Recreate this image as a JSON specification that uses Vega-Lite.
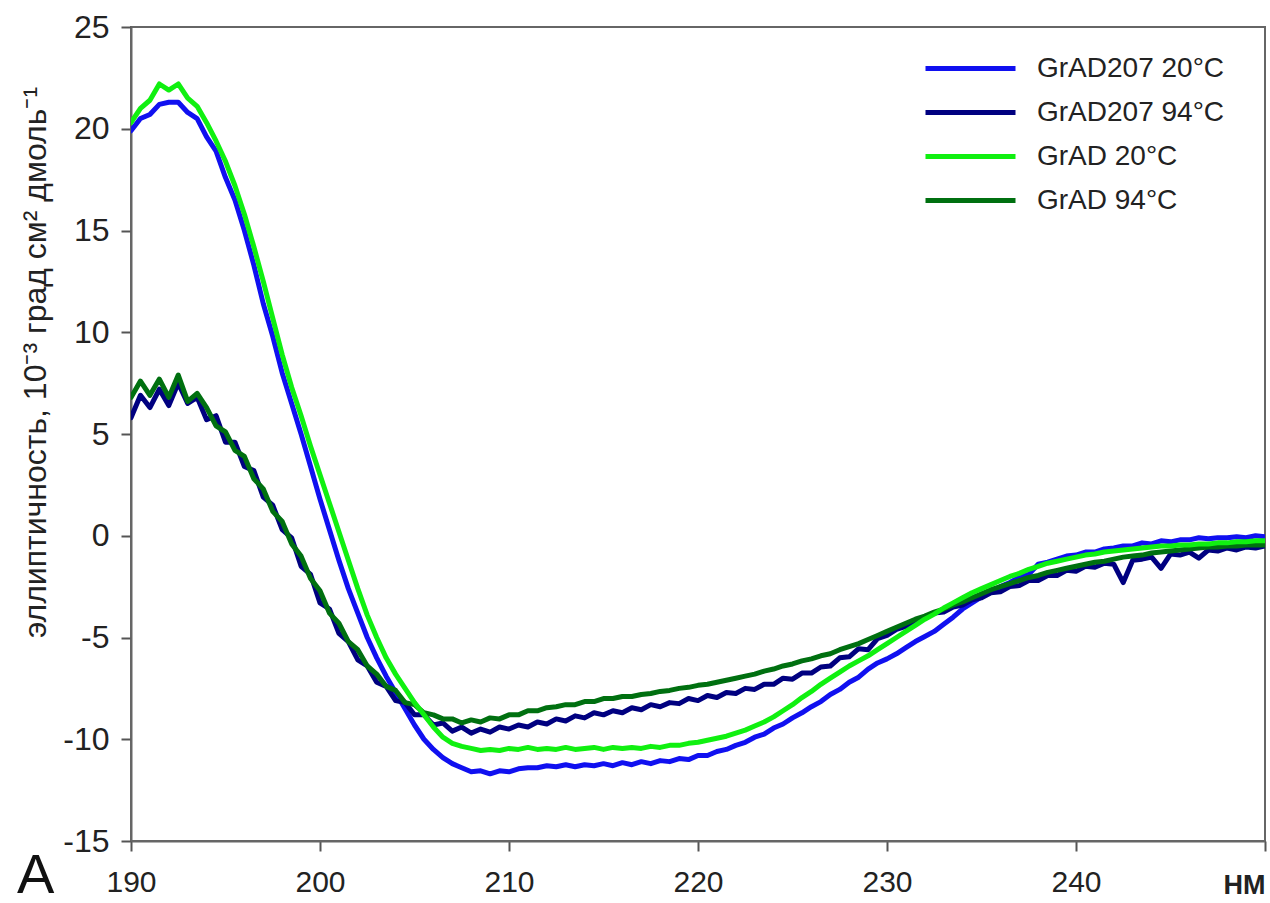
{
  "$schema": "https://vega.github.io/schema/vega-lite/v6.json",
  "width": 1134,
  "height": 814,
  "autosize": {"type": "none"},
  "padding": {"left": 131, "top": 27, "right": 5, "bottom": 62},
  "background": "white",
  "config": {
    "font": "Liberation Sans",
    "view": {"stroke": "#666666", "strokeWidth": 2},
    "axis": {"grid": false, "domainColor": "#666666", "domainWidth": 2, "tickColor": "#555555", "tickWidth": 2, "tickSize": 10, "labelColor": "#222222", "titleColor": "#222222", "labelFont": "Liberation Sans", "titleFont": "Liberation Sans"}
  },
  "title": {"text": "A", "orient": "bottom", "anchor": "start", "frame": "group", "fontSize": 56, "fontWeight": "normal", "color": "#111111", "font": "Liberation Sans", "dx": -114, "dy": -49, "offset": 0},
  "data": {
    "values": [
      {"w":190,"a":19.9,"b":5.8,"c":20.3,"d":6.8},
      {"w":190.5,"a":20.5,"b":6.9,"c":21.0,"d":7.6},
      {"w":191,"a":20.7,"b":6.3,"c":21.4,"d":6.9},
      {"w":191.5,"a":21.2,"b":7.2,"c":22.2,"d":7.7},
      {"w":192,"a":21.3,"b":6.4,"c":21.9,"d":6.8},
      {"w":192.5,"a":21.3,"b":7.5,"c":22.2,"d":7.9},
      {"w":193,"a":20.8,"b":6.5,"c":21.5,"d":6.6},
      {"w":193.5,"a":20.5,"b":6.8,"c":21.1,"d":7.0},
      {"w":194,"a":19.6,"b":5.7,"c":20.3,"d":6.3},
      {"w":194.5,"a":18.9,"b":5.9,"c":19.4,"d":5.4},
      {"w":195,"a":17.6,"b":4.6,"c":18.4,"d":5.1},
      {"w":195.5,"a":16.5,"b":4.6,"c":17.2,"d":4.2},
      {"w":196,"a":15.0,"b":3.4,"c":15.8,"d":3.9},
      {"w":196.5,"a":13.3,"b":3.2,"c":14.2,"d":2.8},
      {"w":197,"a":11.4,"b":1.9,"c":12.5,"d":2.3},
      {"w":197.5,"a":9.8,"b":1.5,"c":10.7,"d":1.2},
      {"w":198,"a":8.0,"b":0.3,"c":8.9,"d":0.7},
      {"w":198.5,"a":6.5,"b":-0.1,"c":7.3,"d":-0.4},
      {"w":199,"a":5.0,"b":-1.5,"c":5.9,"d":-1.0},
      {"w":199.5,"a":3.4,"b":-1.9,"c":4.4,"d":-2.1},
      {"w":200,"a":1.8,"b":-3.3,"c":3.0,"d":-2.7},
      {"w":200.5,"a":0.3,"b":-3.6,"c":1.6,"d":-3.8},
      {"w":201,"a":-1.2,"b":-4.8,"c":0.2,"d":-4.3},
      {"w":201.5,"a":-2.6,"b":-5.2,"c":-1.2,"d":-5.2},
      {"w":202,"a":-3.8,"b":-6.1,"c":-2.6,"d":-5.6},
      {"w":202.5,"a":-5.0,"b":-6.4,"c":-3.9,"d":-6.4},
      {"w":203,"a":-6.0,"b":-7.2,"c":-5.0,"d":-6.8},
      {"w":203.5,"a":-6.9,"b":-7.4,"c":-6.0,"d":-7.4},
      {"w":204,"a":-7.7,"b":-8.1,"c":-6.8,"d":-7.6},
      {"w":204.5,"a":-8.5,"b":-8.2,"c":-7.5,"d":-8.2},
      {"w":205,"a":-9.3,"b":-8.8,"c":-8.2,"d":-8.3},
      {"w":205.5,"a":-10.0,"b":-8.8,"c":-8.8,"d":-8.7},
      {"w":206,"a":-10.5,"b":-9.3,"c":-9.4,"d":-8.8},
      {"w":206.5,"a":-10.9,"b":-9.2,"c":-9.9,"d":-9.0},
      {"w":207,"a":-11.2,"b":-9.6,"c":-10.2,"d":-9.0},
      {"w":207.5,"a":-11.4,"b":-9.4,"c":-10.35,"d":-9.2},
      {"w":208,"a":-11.6,"b":-9.7,"c":-10.45,"d":-9.05},
      {"w":208.5,"a":-11.55,"b":-9.5,"c":-10.55,"d":-9.15},
      {"w":209,"a":-11.7,"b":-9.65,"c":-10.5,"d":-8.95},
      {"w":209.5,"a":-11.55,"b":-9.4,"c":-10.55,"d":-9.0},
      {"w":210,"a":-11.6,"b":-9.5,"c":-10.45,"d":-8.8},
      {"w":210.5,"a":-11.45,"b":-9.3,"c":-10.5,"d":-8.8},
      {"w":211,"a":-11.4,"b":-9.4,"c":-10.4,"d":-8.6},
      {"w":211.5,"a":-11.4,"b":-9.15,"c":-10.5,"d":-8.6},
      {"w":212,"a":-11.3,"b":-9.25,"c":-10.45,"d":-8.45},
      {"w":212.5,"a":-11.35,"b":-9.0,"c":-10.5,"d":-8.4},
      {"w":213,"a":-11.25,"b":-9.1,"c":-10.4,"d":-8.3},
      {"w":213.5,"a":-11.35,"b":-8.85,"c":-10.5,"d":-8.3},
      {"w":214,"a":-11.25,"b":-8.95,"c":-10.45,"d":-8.15},
      {"w":214.5,"a":-11.3,"b":-8.7,"c":-10.4,"d":-8.15},
      {"w":215,"a":-11.2,"b":-8.8,"c":-10.5,"d":-8.0},
      {"w":215.5,"a":-11.3,"b":-8.6,"c":-10.4,"d":-8.0},
      {"w":216,"a":-11.15,"b":-8.7,"c":-10.45,"d":-7.9},
      {"w":216.5,"a":-11.25,"b":-8.45,"c":-10.4,"d":-7.9},
      {"w":217,"a":-11.1,"b":-8.55,"c":-10.45,"d":-7.8},
      {"w":217.5,"a":-11.2,"b":-8.3,"c":-10.35,"d":-7.75},
      {"w":218,"a":-11.05,"b":-8.4,"c":-10.4,"d":-7.65},
      {"w":218.5,"a":-11.1,"b":-8.2,"c":-10.3,"d":-7.6},
      {"w":219,"a":-10.95,"b":-8.25,"c":-10.3,"d":-7.5},
      {"w":219.5,"a":-11.0,"b":-8.0,"c":-10.2,"d":-7.45},
      {"w":220,"a":-10.8,"b":-8.1,"c":-10.15,"d":-7.35},
      {"w":220.5,"a":-10.8,"b":-7.85,"c":-10.05,"d":-7.3},
      {"w":221,"a":-10.6,"b":-7.95,"c":-9.95,"d":-7.2},
      {"w":221.5,"a":-10.5,"b":-7.7,"c":-9.85,"d":-7.1},
      {"w":222,"a":-10.3,"b":-7.75,"c":-9.7,"d":-7.0},
      {"w":222.5,"a":-10.15,"b":-7.5,"c":-9.55,"d":-6.9},
      {"w":223,"a":-9.9,"b":-7.55,"c":-9.35,"d":-6.8},
      {"w":223.5,"a":-9.75,"b":-7.3,"c":-9.15,"d":-6.65},
      {"w":224,"a":-9.45,"b":-7.3,"c":-8.9,"d":-6.55},
      {"w":224.5,"a":-9.25,"b":-7.0,"c":-8.6,"d":-6.4},
      {"w":225,"a":-8.95,"b":-7.05,"c":-8.3,"d":-6.3},
      {"w":225.5,"a":-8.7,"b":-6.75,"c":-7.95,"d":-6.15},
      {"w":226,"a":-8.4,"b":-6.75,"c":-7.65,"d":-6.05},
      {"w":226.5,"a":-8.15,"b":-6.45,"c":-7.3,"d":-5.9},
      {"w":227,"a":-7.8,"b":-6.4,"c":-7.0,"d":-5.8},
      {"w":227.5,"a":-7.55,"b":-6.0,"c":-6.7,"d":-5.6},
      {"w":228,"a":-7.2,"b":-5.95,"c":-6.4,"d":-5.45},
      {"w":228.5,"a":-6.95,"b":-5.55,"c":-6.15,"d":-5.3},
      {"w":229,"a":-6.55,"b":-5.6,"c":-5.9,"d":-5.1},
      {"w":229.5,"a":-6.25,"b":-5.05,"c":-5.6,"d":-4.9},
      {"w":230,"a":-6.05,"b":-4.9,"c":-5.3,"d":-4.7},
      {"w":230.5,"a":-5.8,"b":-4.6,"c":-5.0,"d":-4.5},
      {"w":231,"a":-5.5,"b":-4.45,"c":-4.7,"d":-4.3},
      {"w":231.5,"a":-5.2,"b":-4.15,"c":-4.4,"d":-4.1},
      {"w":232,"a":-4.95,"b":-4.05,"c":-4.1,"d":-3.95},
      {"w":232.5,"a":-4.7,"b":-3.8,"c":-3.85,"d":-3.75},
      {"w":233,"a":-4.35,"b":-3.75,"c":-3.55,"d":-3.6},
      {"w":233.5,"a":-4.0,"b":-3.5,"c":-3.3,"d":-3.4},
      {"w":234,"a":-3.6,"b":-3.4,"c":-3.05,"d":-3.25},
      {"w":234.5,"a":-3.3,"b":-3.15,"c":-2.8,"d":-3.05},
      {"w":235,"a":-3.0,"b":-3.05,"c":-2.6,"d":-2.85},
      {"w":235.5,"a":-2.75,"b":-2.8,"c":-2.4,"d":-2.65},
      {"w":236,"a":-2.5,"b":-2.75,"c":-2.2,"d":-2.5},
      {"w":236.5,"a":-2.3,"b":-2.5,"c":-2.0,"d":-2.35},
      {"w":237,"a":-2.05,"b":-2.45,"c":-1.85,"d":-2.2},
      {"w":237.5,"a":-1.9,"b":-2.2,"c":-1.65,"d":-2.05},
      {"w":238,"a":-1.4,"b":-2.2,"c":-1.5,"d":-1.95},
      {"w":238.5,"a":-1.3,"b":-1.95,"c":-1.35,"d":-1.8},
      {"w":239,"a":-1.15,"b":-1.95,"c":-1.25,"d":-1.7},
      {"w":239.5,"a":-1.0,"b":-1.7,"c":-1.15,"d":-1.6},
      {"w":240,"a":-0.95,"b":-1.75,"c":-1.05,"d":-1.5},
      {"w":240.5,"a":-0.8,"b":-1.5,"c":-0.95,"d":-1.4},
      {"w":241,"a":-0.8,"b":-1.55,"c":-0.9,"d":-1.3},
      {"w":241.5,"a":-0.65,"b":-1.35,"c":-0.8,"d":-1.25},
      {"w":242,"a":-0.6,"b":-1.4,"c":-0.75,"d":-1.15},
      {"w":242.5,"a":-0.5,"b":-2.3,"c":-0.7,"d":-1.05},
      {"w":243,"a":-0.5,"b":-1.2,"c":-0.65,"d":-1.0},
      {"w":243.5,"a":-0.35,"b":-1.15,"c":-0.6,"d":-0.95},
      {"w":244,"a":-0.4,"b":-1.05,"c":-0.55,"d":-0.85},
      {"w":244.5,"a":-0.25,"b":-1.6,"c":-0.5,"d":-0.8},
      {"w":245,"a":-0.3,"b":-0.9,"c":-0.5,"d":-0.75},
      {"w":245.5,"a":-0.2,"b":-0.95,"c":-0.45,"d":-0.7},
      {"w":246,"a":-0.2,"b":-0.8,"c":-0.45,"d":-0.65},
      {"w":246.5,"a":-0.1,"b":-1.1,"c":-0.4,"d":-0.6},
      {"w":247,"a":-0.15,"b":-0.7,"c":-0.4,"d":-0.55},
      {"w":247.5,"a":-0.1,"b":-0.75,"c":-0.35,"d":-0.55},
      {"w":248,"a":-0.1,"b":-0.6,"c":-0.35,"d":-0.5},
      {"w":248.5,"a":-0.05,"b":-0.7,"c":-0.3,"d":-0.5},
      {"w":249,"a":-0.1,"b":-0.55,"c":-0.3,"d":-0.45},
      {"w":249.5,"a":0.0,"b":-0.6,"c":-0.25,"d":-0.45},
      {"w":250,"a":-0.05,"b":-0.5,"c":-0.25,"d":-0.45}
    ]
  },
  "transform": [{"fold": ["a", "b", "d", "c"], "as": ["series", "value"]}],
  "mark": {"type": "line", "strokeWidth": 5, "strokeJoin": "round", "strokeCap": "round", "clip": true},
  "encoding": {
    "x": {
      "field": "w", "type": "quantitative",
      "scale": {"domain": [190, 250], "nice": false, "zero": false},
      "axis": {"values": [190, 200, 210, 220, 230, 240, 250], "labelFlush": false, "labelExpr": "datum.value == 250 ? '' : datum.label", "labelFontSize": 30, "labelPadding": 16, "title": "НМ", "titleFontSize": 27, "titleFontWeight": "bold", "titleX": 1113, "titleY": 52, "titleAlign": "center", "titleBaseline": "alphabetic"}
    },
    "y": {
      "field": "value", "type": "quantitative",
      "scale": {"domain": [-15, 25], "nice": false, "zero": false},
      "axis": {"values": [-15, -10, -5, 0, 5, 10, 15, 20, 25], "labelFlush": false, "labelExpr": "replace(datum.label, '−', '-')", "labelFontSize": 32, "labelPadding": 12, "title": "эллиптичность, 10⁻³ град см² дмоль⁻¹", "titleFontSize": 32, "titleFontWeight": "normal", "titleX": -86, "titleY": 335, "titleAngle": -90, "titleAlign": "center", "titleBaseline": "alphabetic"}
    },
    "color": {
      "field": "series", "type": "nominal",
      "scale": {"domain": ["a", "b", "c", "d"], "range": ["#1010f0", "#000080", "#10f010", "#007010"]},
      "legend": {
        "title": null, "orient": "none", "legendX": 822, "legendY": 24, "padding": 0,
        "symbolType": "M-3,0H3", "symbolSize": 900, "symbolStrokeWidth": 5,
        "rowPadding": 12, "labelOffset": 49, "labelFontSize": 28, "labelLimit": 400, "labelColor": "#222222", "labelFont": "Liberation Sans",
        "labelExpr": "{'a': 'GrAD207 20°C', 'b': 'GrAD207 94°C', 'c': 'GrAD 20°C', 'd': 'GrAD 94°C'}[datum.label]"
      }
    }
  }
}
